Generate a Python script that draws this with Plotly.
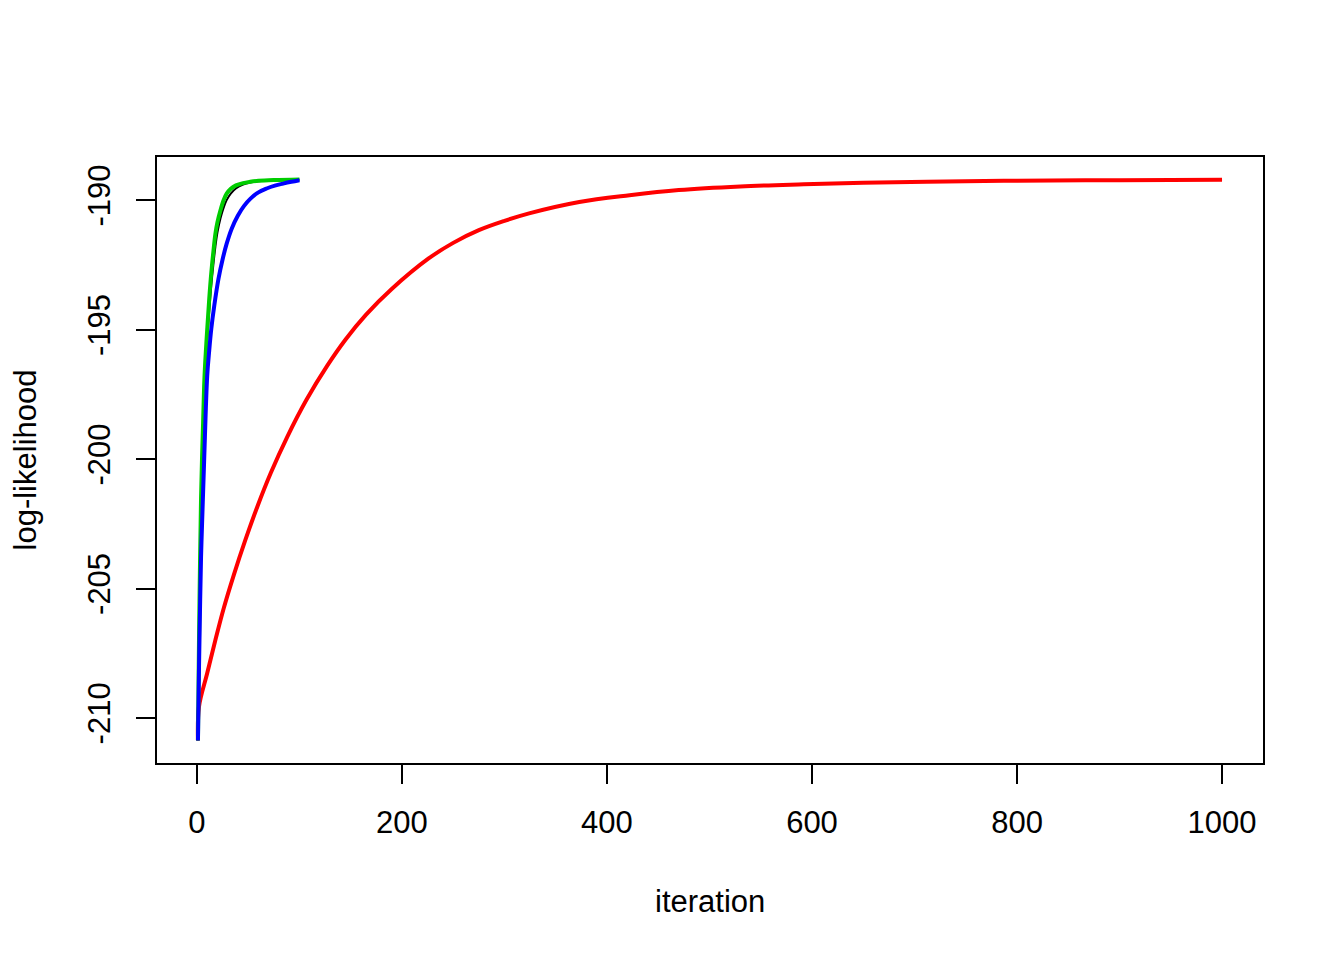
import plotly.graph_objects as go

# ---- data ----
black_iter = [1, 2, 3, 4, 5, 6, 7, 8, 10, 12, 14, 16, 18, 20, 23, 26, 29, 33, 38, 45, 52, 60, 75, 100]
black_ll = [-210.87, -207.3, -204.3, -201.9, -200.3, -199.0, -197.7, -196.8, -195.4, -194.3,
            -193.3, -192.5, -191.8, -191.25, -190.7, -190.3, -190.0, -189.75, -189.55, -189.4,
            -189.32, -189.27, -189.23, -189.21]

red_iter = [1, 2, 10, 18, 26, 36, 47, 59, 72, 88, 107, 127, 145, 165, 190, 226, 250, 275, 300,
            324, 373, 422, 470, 530, 592, 650, 712, 800, 900, 1000]
red_ll = [-210.87, -209.56, -208.27, -206.99, -205.78, -204.47, -203.15, -201.83, -200.54, -199.15,
          -197.7, -196.4, -195.38, -194.42, -193.43, -192.25, -191.65, -191.16, -190.8,
          -190.51, -190.07, -189.81, -189.61, -189.47, -189.39, -189.33, -189.29, -189.25, -189.23, -189.21]

green_iter = [1, 2, 3, 4, 5, 6, 7, 8, 10, 12, 14, 16, 18, 20, 23, 26, 29, 33, 38, 45, 52, 60, 75, 100]
green_ll = [-210.87, -207.0, -204.0, -201.5, -199.9, -198.6, -197.2, -196.3, -195.0, -193.8,
            -192.8, -192.0, -191.3, -190.85, -190.38, -190.0, -189.75, -189.56, -189.43, -189.34,
            -189.29, -189.25, -189.22, -189.2]

blue_iter = [1, 2, 3, 4, 5, 7, 10, 12, 14, 17, 21, 25, 29, 34, 40, 46, 52, 60, 68, 76, 84, 92, 100]
blue_ll = [-210.87, -208.1, -205.8, -203.8, -202.5, -200.1, -196.8, -195.8, -194.97, -194.05,
           -193.04, -192.29, -191.68, -191.09, -190.59, -190.22, -189.95, -189.7, -189.55,
           -189.44, -189.36, -189.29, -189.23]

x_ticks = [0, 200, 400, 600, 800, 1000]
y_ticks = [-210, -205, -200, -195, -190]

# R-style 4% axis extension
all_x = black_iter + red_iter + green_iter + blue_iter
all_y = black_ll + red_ll + green_ll + blue_ll
dx = max(all_x) - min(all_x)
dy = max(all_y) - min(all_y)
x_range = [min(all_x) - 0.04 * dx, max(all_x) + 0.04 * dx]
y_range = [min(all_y) - 0.04 * dy, max(all_y) + 0.04 * dy]

FONT = "Liberation Sans, Arial, Helvetica, sans-serif"

fig = go.Figure()
fig.add_trace(go.Scatter(x=black_iter, y=black_ll, mode="lines",
                         line=dict(color="#000000", width=2, shape="spline", smoothing=1.0),
                         showlegend=False))
fig.add_trace(go.Scatter(x=red_iter, y=red_ll, mode="lines",
                         line=dict(color="#FF0000", width=4, shape="spline", smoothing=1.0),
                         showlegend=False))
fig.add_trace(go.Scatter(x=green_iter, y=green_ll, mode="lines",
                         line=dict(color="#00CD00", width=4, shape="spline", smoothing=1.0),
                         showlegend=False))
fig.add_trace(go.Scatter(x=blue_iter, y=blue_ll, mode="lines",
                         line=dict(color="#0000FF", width=4, shape="spline", smoothing=1.0),
                         showlegend=False))

axis_common = dict(showline=True, linecolor="black", linewidth=2, mirror=True,
                   ticks="outside", ticklen=19, tickwidth=2, tickcolor="black",
                   showgrid=False, zeroline=False,
                   tickfont=dict(family=FONT, size=31, color="black"))

fig.update_xaxes(range=x_range, tickvals=x_ticks, ticktext=[str(v) for v in x_ticks],
                 ticklabelstandoff=12, **axis_common)
fig.update_yaxes(range=y_range, tickvals=y_ticks, ticktext=[str(v) for v in y_ticks],
                 tickangle=-90, ticklabelstandoff=14,
                 title=dict(text="log-likelihood", standoff=53,
                            font=dict(family=FONT, size=31, color="black")),
                 **axis_common)

PLOT_L, PLOT_T, PLOT_W, PLOT_H = 157, 157, 1106, 606

fig.update_layout(
    width=1344, height=960,
    margin=dict(l=149, r=89, t=149, b=205, autoexpand=False),
    plot_bgcolor="white", paper_bgcolor="white",
    font=dict(family=FONT, color="black"),
    annotations=[
        dict(text="iteration", xref="paper", yref="paper", x=0.5,
             y=(PLOT_T + PLOT_H - 901) / PLOT_H,
             xanchor="center", yanchor="middle", showarrow=False,
             font=dict(family=FONT, size=31, color="black")),
    ],
)

fig.write_html("out.html")
